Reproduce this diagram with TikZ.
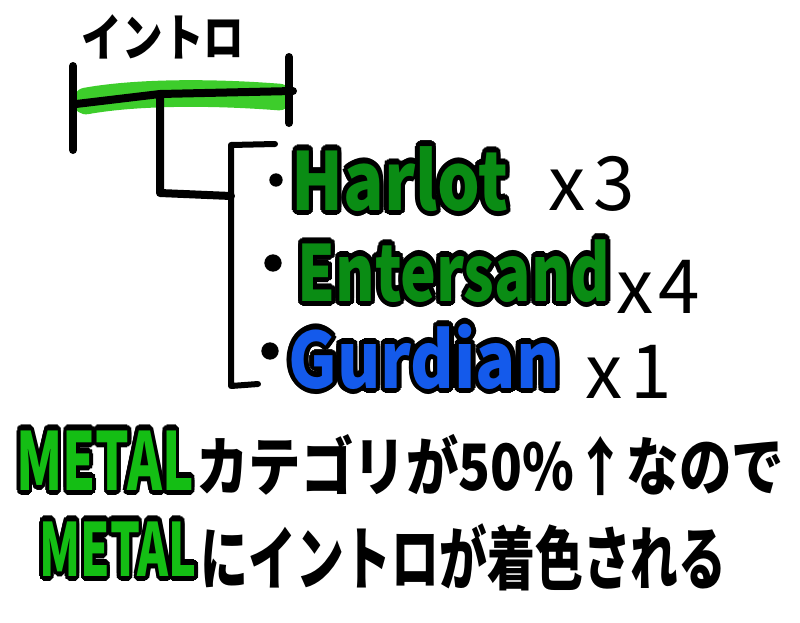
\documentclass[tikz,border=0pt]{standalone}
\usepackage{fontspec}
\setmainfont{Noto Sans CJK JP}
\definecolor{hlgreen}{RGB}{40,200,20}
\definecolor{darkgreen}{RGB}{10,140,20}
\definecolor{metalgreen}{RGB}{20,190,20}
\definecolor{guardblue}{RGB}{20,90,235}
% coloured letters with a black rim
\newcommand{\rimtext}[3][3]{%
  \foreach \ang in {0,22.5,...,337.5}{%
    \makebox[0pt][l]{\hspace*{\fpeval{#1*cosd(\ang)}pt}\raisebox{\fpeval{#1*sind(\ang)}pt}{\color{black}#3}}}%
  \textcolor{#2}{#3}}

\tikzset{every picture/.style={line width=0.75pt}}
\tikzset{ink/.style={line width=6pt, line cap=round, line join=round},
  thinink/.style={line width=4.5pt, line cap=round, line join=round},
  bullet/.style={circle, fill=black, inner sep=0pt, minimum size=#1},
  label/.style={inner sep=0pt, anchor=base west}}

\begin{document}
\begin{tikzpicture}[x=0.75pt,y=0.75pt,yscale=-1,xscale=1]
	\useasboundingbox (0,0) rectangle (800,622);

	%Shape: Highlight
	\draw [hlgreen, opacity=0.9, line width=20pt, line cap=round] (86,101) .. controls (130,93) and (200,91) .. (279,97) ;
	%Straight Lines
	\coordinate (lend) at (76,104);
	\coordinate (mid) at (160,94);
	\coordinate (rend) at (293,91);
	\draw [ink] (lend) -- (mid) -- (rend) ;
	\draw [ink] (73,66) -- (73,150) ;
	\draw [ink] (289,57) -- (289,123) ;
	\coordinate (knee) at (160,193);
	\coordinate (join) at (231,196);
	\draw [ink] (mid) -- (knee) -- (join) ;
	%Bracket
	\coordinate (btop) at (231,145);
	\coordinate (bbot) at (231,386);
	\draw [thinink] (275,144) -- (btop) -- (bbot) -- (258,384) ;
	%Bullets
	\node [bullet=10pt] (dot1) at (276,180) {};
	\node [bullet=13pt] (dot2) at (273,263) {};
	\node [bullet=13pt] (dot3) at (270,351) {};

	% Text Node
	\node [inner sep=0pt, font=\fontsize{38}{38}\selectfont\bfseries, xscale=0.8] (intro) at (163,37) {イントロ};
	% Text Node
	\node [label, font=\fontsize{60}{60}\selectfont\bfseries, xscale=0.84] (harlot) at (291,210) {\rimtext[4]{darkgreen}{Harlot}};
	\node [label, font=\fontsize{56}{56}\selectfont] (cnt1) at (548,210) {x\hspace{6pt}3};
	% Text Node
	\node [label, font=\fontsize{58}{58}\selectfont\bfseries, xscale=0.78] (entersand) at (297,301) {\rimtext[4]{darkgreen}{Entersand}};
	\node [label, font=\fontsize{56}{56}\selectfont] (cnt2) at (616,313) {x\hspace{4pt}4};
	% Text Node
	\node [label, font=\fontsize{58}{58}\selectfont\bfseries, xscale=0.86] (gurdian) at (288,388) {\rimtext[4]{guardblue}{Gurdian}};
	\node [label, font=\fontsize{56}{56}\selectfont] (cnt3) at (585,398) {x\hspace{6pt}1};
	% Text Node
	\node [label, font=\fontsize{60}{60}\selectfont\bfseries, xscale=0.66] (metala) at (16,490) {\rimtext[4]{metalgreen}{METAL}};
	\node [label, font=\fontsize{48}{48}\selectfont\bfseries, xscale=0.82] (reason) at (196,490) {カテゴリが50\%↑なので};
	% Text Node
	\node [label, font=\fontsize{55}{55}\selectfont\bfseries, xscale=0.64] (metalb) at (39,576) {\rimtext[4]{metalgreen}{METAL}};
	\node [label, font=\fontsize{52}{52}\selectfont\bfseries, xscale=0.69] (result) at (200,584) {にイントロが着色される};

\end{tikzpicture}
\end{document}
